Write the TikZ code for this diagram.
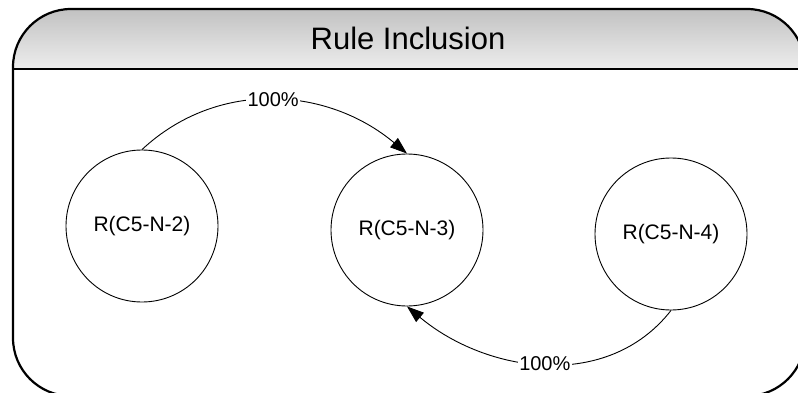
\documentclass[tikz,border=0pt]{standalone}
\usepackage{fontspec}
\setmainfont{Liberation Sans}
\usetikzlibrary{arrows.meta}

\tikzset{
  rulenode/.style={circle, draw=black, line width=0.9pt, minimum size=152pt,
                   inner sep=0pt, font=\fontsize{21}{25}\selectfont},
  framebox/.style={draw=black, line width=2.2pt, rounded corners=58pt},
  linkarrow/.style={draw=black, line width=0.9pt,
                    -{Triangle[length=17pt,width=12pt]}},
  linklabel/.style={fill=white, inner sep=1.5pt, font=\fontsize{20}{24}\selectfont},
  titletext/.style={font=\fontsize{31}{36}\selectfont}
}

\begin{document}
\begin{tikzpicture}[x=1pt, y=-1pt]
  \useasboundingbox (0,0) rectangle (798,393);
  \fill[white] (0,0) rectangle (798,393);

  % shaded header band, clipped to the rounded frame
  \begin{scope}
    \clip[rounded corners=58pt] (13,9) rectangle (805,396);
    \shade[top color=gray!48, bottom color=gray!14] (13,9) rectangle (805,69);
  \end{scope}
  \draw[line width=1.6pt] (13,69) -- (805,69);
  \draw[framebox] (13,9) rectangle (805,396);

  \node[titletext] (title) at (408,38) {Rule Inclusion};

  % rule nodes
  \node[rulenode] (n2) at (142,226) {R(C5-N-2)};
  \node[rulenode] (n3) at (407,230) {R(C5-N-3)};
  \node[rulenode] (n4) at (671,234) {R(C5-N-4)};

  % inclusion links
  \draw[linkarrow] (n2.north) to[out=43, in=140]
    node[linklabel] {100\%} (n3.north);
  \draw[linkarrow] (n4.south) to[out=232, in=-40]
    node[linklabel] {100\%} (n3.south);
\end{tikzpicture}
\end{document}
